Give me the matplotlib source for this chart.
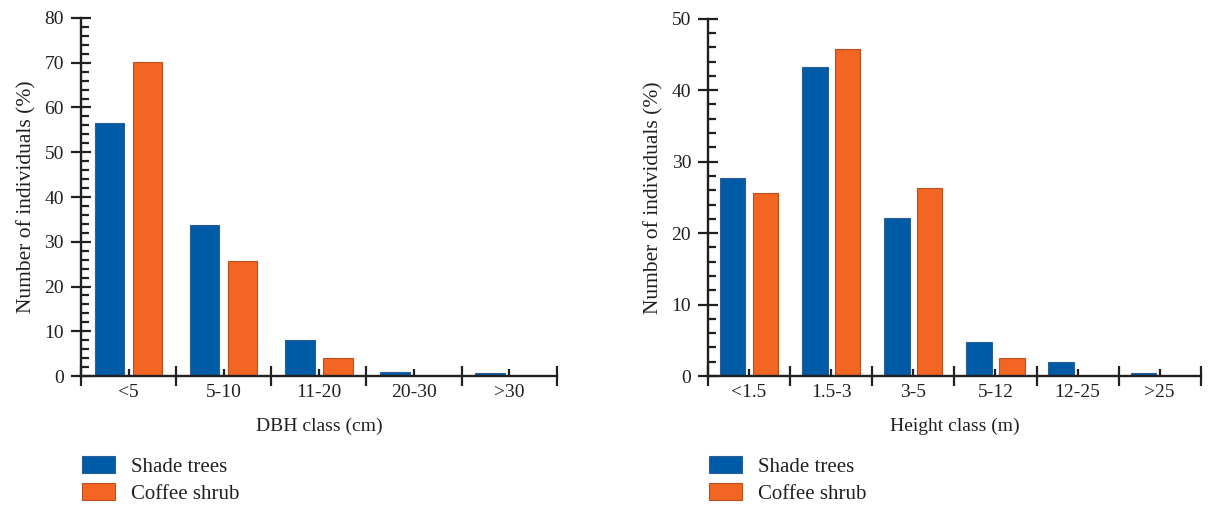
import numpy as np
import matplotlib.pyplot as plt
from matplotlib.ticker import MultipleLocator

# data
dbh_classes = ["<5", "5-10", "11-20", "20-30", ">30"]
dbh_shade = [56.6, 33.7, 8.0, 1.0, 0.7]
dbh_coffee = [70.1, 25.7, 4.1, 0.0, 0.0]

height_classes = ["<1.5", "1.5-3", "3-5", "5-12", "12-25", ">25"]
height_shade = [27.7, 43.3, 22.1, 4.8, 1.9, 0.45]
height_coffee = [25.6, 45.8, 26.3, 2.5, 0.0, 0.0]

BLUE = "#005BA6"
ORANGE = "#F26522"
INK = "#231F20"

plt.rcParams.update({
    "font.family": "Liberation Serif",
    "font.size": 14,
    "text.color": INK,
    "axes.labelcolor": INK,
    "xtick.color": INK,
    "ytick.color": INK,
    "axes.edgecolor": INK,
    "axes.linewidth": 1.7,
})


def draw_panel(ax, classes, shade, coffee, ymax, xlabel):
    x = np.arange(len(classes))
    w = 0.31
    ax.bar(x - 0.2, shade, w, color=BLUE, edgecolor="#2C5F96", linewidth=0.8,
           label="Shade trees", zorder=1)
    ax.bar(x + 0.2, coffee, w, color=ORANGE, edgecolor="#B9501E", linewidth=0.8,
           label="Coffee shrub", zorder=1)

    ax.set_xlim(-0.5, len(classes) - 0.5)
    ax.set_ylim(0, ymax)
    ax.spines["top"].set_visible(False)
    ax.spines["right"].set_visible(False)

    ax.set_xticks(x)
    ax.set_xticklabels(classes)
    ax.set_xticks(np.arange(len(classes) + 1) - 0.5, minor=True)
    ax.tick_params(axis="x", which="major", direction="in", length=5, width=1.6, pad=6)
    ax.tick_params(axis="x", which="minor", direction="inout", length=14.4, width=1.6)

    ax.yaxis.set_major_locator(MultipleLocator(10))
    ax.yaxis.set_minor_locator(MultipleLocator(2))
    ax.tick_params(axis="y", which="major", direction="inout", length=14.4, width=1.6, pad=5)
    ax.tick_params(axis="y", which="minor", direction="in", length=5.8, width=1.6)

    ax.set_xlabel(xlabel, labelpad=12)
    ax.set_ylabel("Number of individuals (%)", labelpad=6, fontsize=15.5)


fig = plt.figure(figsize=(12.21, 5.05), dpi=100)
ax1 = fig.add_axes([0.0663, 0.2554, 0.456 - 0.0663, 0.9644 - 0.2554])
ax2 = fig.add_axes([0.5799, 0.2554, 0.9834 - 0.5799, 0.963 - 0.2554])

draw_panel(ax1, dbh_classes, dbh_shade, dbh_coffee, 80, "DBH class (cm)")
draw_panel(ax2, height_classes, height_shade, height_coffee, 50, "Height class (m)")

for ax, x0 in ((ax1, 0.0672), (ax2, 0.5808)):
    h, l = ax.get_legend_handles_labels()
    fig.legend(h, l, loc="upper left", bbox_to_anchor=(x0, 1 - 456 / 505),
               frameon=False, borderpad=0, borderaxespad=0, handlelength=1.6,
               handleheight=0.85, handletextpad=0.75, labelspacing=0.32,
               fontsize=15)

fig.savefig("out.png", dpi=100)
